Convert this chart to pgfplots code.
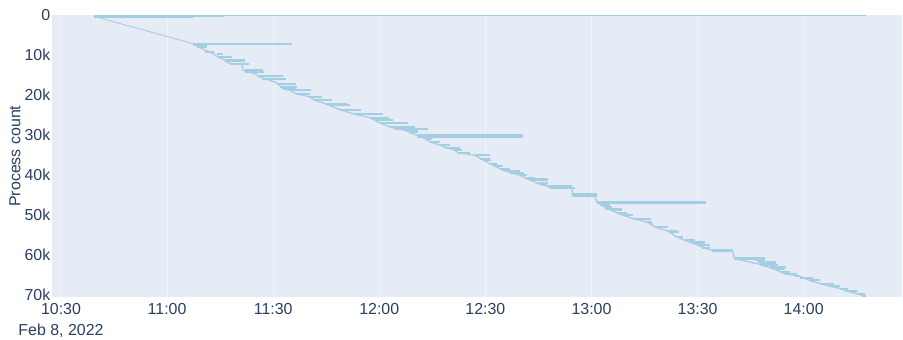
\documentclass[border=0pt]{standalone}
\usepackage{fontspec}
\setmainfont{Liberation Sans}
\usepackage{pgfplots}
\usepackage{pgfplotstable}
\pgfplotsset{compat=1.18}
\definecolor{bg}{HTML}{E5ECF6}
\definecolor{txt}{HTML}{2A3F5F}
\definecolor{barc}{HTML}{A6CEE3}
\definecolor{gridc}{HTML}{F0F4FA}

% bars: start (min after 10:30), end (min after 10:30), process index
\pgfplotstableread{
s e p
9.33 46.07 150
9.33 46.07 300
9.33 37.31 450
37.31 65.29 7150
37.31 41.27 7518
38.44 41.27 8019
40.70 43.24 9197
44.09 45.79 9773
44.38 48.33 10450
46.35 52.01 11150
46.35 52.01 11400
47.77 53.14 12104
52.01 57.09 13783
52.01 57.38 14209
55.68 62.75 15287
56.81 63.60 15863
61.05 66.42 17116
61.90 66.70 17968
62.75 66.42 18369
64.73 70.66 18795
66.42 70.38 19622
70.38 73.77 20474
71.79 76.60 21301
74.62 80.84 22128
76.03 81.68 22554
78.86 84.79 23632
83.10 91.01 24809
87.34 92.71 25636
88.75 93.84 26313
90.16 98.08 26990
92.99 100.06 27992
94.40 103.73 28393
97.23 100.90 28819
98.64 100.90 29245
100.62 130.58 30072
100.62 130.58 30498
102.88 104.86 30899
104.30 107.12 31751
107.12 109.95 32578
108.54 112.78 33155
111.36 113.34 33831
112.21 115.60 34408
117.02 121.26 35084
118.43 121.26 35911
119.56 121.54 36337
121.26 123.23 37164
122.67 124.93 37766
124.08 126.91 38417
125.49 129.73 39019
126.91 130.87 39420
129.73 131.71 40096
131.15 133.97 40673
131.71 137.65 41098
132.56 137.65 41349
134.82 137.65 41926
135.39 137.65 42351
137.65 144.43 42700
137.65 144.43 42950
138.21 145.28 43178
144.43 151.50 44682
144.71 151.50 45283
151.50 182.31 46787
151.50 182.31 47150
152.35 155.17 47439
153.76 155.74 48040
153.76 158.56 48441
155.17 158.56 48867
157.15 159.98 49544
158.85 161.67 50120
161.67 166.76 50947
165.63 167.04 51799
166.48 167.33 52200
167.89 171.57 53052
171.57 174.11 54054
172.13 174.67 54305
174.11 175.81 55558
176.37 179.20 56385
177.78 182.02 56811
179.20 182.02 57062
180.05 183.44 57638
181.18 183.44 58214
184.00 189.94 58800
184.00 189.94 59050
190.50 198.98 60900
190.50 198.98 61150
196.16 198.98 61397
197.00 202.09 61823
197.57 202.09 62224
197.57 202.66 62650
200.40 204.92 63076
201.81 204.64 63652
203.22 206.05 64329
204.64 208.03 64730
207.46 208.88 65407
208.88 212.55 65732
211.70 214.53 66409
214.53 218.48 67236
217.35 220.18 67913
220.18 222.44 68489
221.59 225.27 69090
224.99 227.25 69742
226.40 227.53 70300
}\bars

% thin bar of the parent process
\pgfplotstableread{
x y
9.33 0
227.53 0
}\parent

% first, evenly spread processes
\pgfplotstableread{
x y
9.33 250
37.31 7092
}\diagonal

% staircase of the many short processes
\pgfplotstableread{
x y
37.31 7092
38.44 7700
40.70 8700
43.24 9700
44.38 10450
46.35 11277
47.77 12104
51.16 12300
51.44 13783
55.40 14800
55.68 15287
61.05 16900
62.75 18369
64.73 18795
66.42 19622
70.38 20474
71.79 21301
74.62 22128
78.86 23632
83.10 24809
87.34 25636
90.16 26990
92.99 27992
97.23 28819
100.62 30072
102.88 30899
104.30 31751
107.12 32578
111.36 33831
112.21 34408
117.02 35084
119.56 36337
121.26 37164
122.67 37766
124.08 38417
125.49 39019
129.73 40096
131.15 40673
135.39 42351
137.65 42853
144.43 43354
144.71 45283
150.93 45359
151.50 46787
153.76 48040
157.15 49544
161.67 50947
165.63 51799
167.89 53052
171.57 54054
174.11 55558
176.37 56385
180.05 57638
184.00 58891
189.94 59142
190.50 60971
197.57 62399
201.81 63652
204.64 64730
208.88 65407
212.27 66660
214.53 67161
217.35 67913
220.18 68414
222.44 69166
224.99 69742
226.40 70168
}\backbone

\begin{document}
\begin{tikzpicture}
\useasboundingbox (-52bp,-43bp) rectangle (851bp,297bp);
\begin{axis}[
  scale only axis, width=850bp, height=281.7bp,
  xmin=-2.54, xmax=237.8, ymin=0, ymax=70600, y dir=reverse,
  axis background/.style={fill=bg},
  axis line style={draw=none},
  tick style={draw=none},
  xtick={0,30,60,90,120,150,180,210},
  xticklabels={{10:30\\Feb 8, 2022},11:00,11:30,12:00,12:30,13:00,13:30,14:00},
  ytick={0,10000,20000,30000,40000,50000,60000,70000},
  yticklabels={0,10k,20k,30k,40k,50k,60k,70k},
  xmajorgrids, ymajorgrids=false,
  major grid style={draw=gridc, line width=1bp},
  every tick label/.append style={font=\fontsize{16}{21}\selectfont, text=txt},
  xticklabel style={align=center, inner sep=0pt, yshift=-6.5bp},
  yticklabel style={inner sep=1.5bp},
  scaled y ticks=false,
  ylabel={Process count},
  every axis y label/.style={at={([xshift=-37bp]rel axis cs:0,0.5)}, rotate=90, anchor=center, font=\fontsize{16}{19}\selectfont, text=txt},
  clip=true,
]
\addplot[draw=barc, line width=0.7bp, no markers] table[x=x, y=y] {\parent};
\addplot[draw=barc, line width=0.9bp, no markers] table[x=x, y=y] {\diagonal};
\addplot[draw=barc, line width=1.3bp, line join=round, no markers] table[x=x, y=y] {\backbone};
\addplot[draw=none, no markers,
  error bars/.cd, x dir=plus, x explicit, error mark=none,
  error bar style={draw=barc, line width=1.9bp}]
  table[x=s, y=p, x error expr=\thisrow{e}-\thisrow{s}] {\bars};
\end{axis}
\end{tikzpicture}
\end{document}
